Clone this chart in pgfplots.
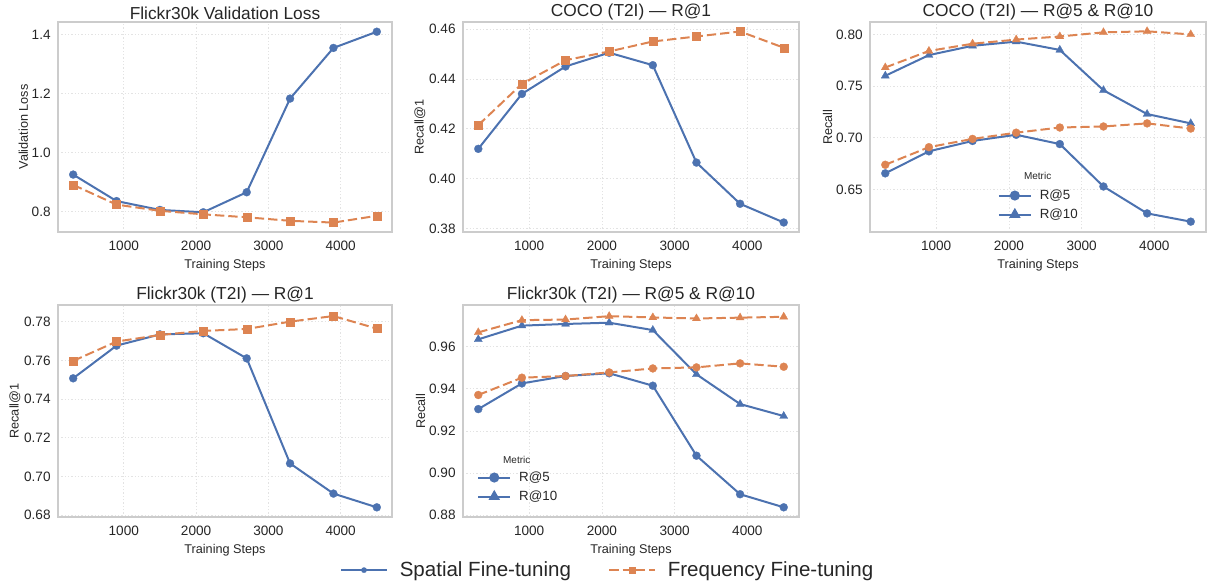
\documentclass[border=0pt]{standalone}
\usepackage{fontspec}
\setmainfont{Liberation Sans}
\usepackage{pgfplots}
\pgfplotsset{compat=1.18}
\definecolor{sblue}{HTML}{4C72B0}
\definecolor{sorange}{HTML}{DD8452}
\definecolor{gridc}{HTML}{E3E3E3}
\definecolor{framec}{HTML}{CCCCCC}
\definecolor{txt}{HTML}{262626}
\pgfplotsset{
  panel/.style={
    scale only axis,
    xmin=90, xmax=4710,
    xtick={1000,2000,3000,4000},
    grid=major,
    major grid style={gridc, line width=0.6pt, dash pattern=on 1pt off 1.5pt},
    axis line style={framec, line width=0.9pt},
    major tick length=0pt,
    tick style={draw=none},
    tick label style={font=\fontsize{10.2}{12}\selectfont, text=txt},
    xticklabel shift=3pt,
    yticklabel shift=2pt,
    ylabel shift=-4pt,
    /pgf/number format/assume math mode=true,
    /pgf/number format/set thousands separator={},
    yticklabel style={/pgf/number format/.cd, fixed, fixed zerofill, precision=2},
    title style={font=\fontsize{13}{15}\selectfont, text=txt, yshift=-8pt},
    label style={font=\fontsize{9.5}{11}\selectfont, text=txt},
    xlabel={Training Steps},
    every axis plot/.append style={line width=1.5pt},
    legend style={draw=none, fill=none, font=\fontsize{10}{12}\selectfont, text=txt, row sep=1.5pt,
      /tikz/every odd column/.append style={column sep=4pt}},
    legend cell align=left,
    legend image code/.code={\draw[mark repeat=2,mark phase=2] plot coordinates {(0cm,0cm)(0.42cm,0cm)(0.84cm,0cm)};},
  },
  spat/.style={sblue, solid, mark size=3pt, mark options={solid, fill=sblue, draw=sblue, line width=0.2pt}},
  freq/.style={sorange, dash pattern=on 7pt off 3pt, mark size=3pt, mark options={solid, fill=sorange, draw=sorange, line width=0.2pt}},
}
\begin{document}
\begin{tikzpicture}
\useasboundingbox (0,0) rectangle (906pt,-438.75pt);
% Panel 1
\begin{axis}[panel, at={(43.5pt,-16.5pt)}, anchor=north west, width=250.5pt, height=157.5pt,
  title={Flickr30k Validation Loss}, ylabel={Validation Loss},
  ymin=0.730, ymax=1.443, ytick={0.8,1.0,1.2,1.4},
  yticklabel style={/pgf/number format/.cd, fixed, fixed zerofill, precision=1},
  legend style={at={(1.647,-1.61)}, anchor=center, legend columns=2, font=\fontsize{15.4}{18}\selectfont,
    /tikz/every odd column/.append style={column sep=7pt},
    /tikz/every even column/.append style={column sep=26pt}},
  legend image code/.code={\draw[mark repeat=2,mark phase=2] plot coordinates {(0cm,0cm)(0.6cm,0cm)(1.2cm,0cm)};},
  legend image post style={mark size=2pt},
]
\addplot[spat, mark=*] coordinates {(300,0.925)(900,0.835)(1500,0.805)(2100,0.797)(2700,0.865)(3300,1.183)(3900,1.355)(4500,1.410)};
\addplot[freq, mark=square*] coordinates {(300,0.890)(900,0.823)(1500,0.802)(2100,0.790)(2700,0.780)(3300,0.768)(3900,0.762)(4500,0.785)};
\legend{Spatial Fine-tuning, Frequency Fine-tuning}
\end{axis}
% Panel 2
\begin{axis}[panel, at={(347.25pt,-16.5pt)}, anchor=north west, width=252pt, height=157.5pt,
  title={COCO (T2I) — R@1}, ylabel={Recall@1},
  ymin=0.3787, ymax=0.4628, ytick={0.38,0.40,0.42,0.44,0.46},
]
\addplot[spat, mark=*] coordinates {(300,0.412)(900,0.434)(1500,0.445)(2100,0.4505)(2700,0.4455)(3300,0.4065)(3900,0.390)(4500,0.3825)};
\addplot[freq, mark=square*] coordinates {(300,0.4215)(900,0.438)(1500,0.4475)(2100,0.451)(2700,0.455)(3300,0.457)(3900,0.459)(4500,0.4525)};
\end{axis}
% Panel 3
\begin{axis}[panel, at={(652.5pt,-16.5pt)}, anchor=north west, width=252pt, height=157.5pt,
  title={COCO (T2I) — R@5 \& R@10}, ylabel={Recall},
  ymin=0.609, ymax=0.812, ytick={0.65,0.70,0.75,0.80},
  legend style={at={(0.368,0.228)}, anchor=north west},
]
\addlegendimage{sblue, solid, line width=1.5pt, mark=*, mark size=3pt, mark options={fill=sblue}}
\addlegendimage{sblue, solid, line width=1.5pt, mark=triangle*, mark size=3.5pt, mark options={fill=sblue}}
\addplot[spat, mark=*] coordinates {(300,0.6657)(900,0.687)(1500,0.697)(2100,0.703)(2700,0.694)(3300,0.653)(3900,0.627)(4500,0.619)};
\addplot[spat, mark=triangle*, mark size=3.5pt] coordinates {(300,0.760)(900,0.780)(1500,0.789)(2100,0.793)(2700,0.785)(3300,0.746)(3900,0.723)(4500,0.714)};
\addplot[freq, mark=*] coordinates {(300,0.674)(900,0.691)(1500,0.699)(2100,0.705)(2700,0.710)(3300,0.711)(3900,0.714)(4500,0.709)};
\addplot[freq, mark=triangle*, mark size=3.5pt] coordinates {(300,0.768)(900,0.784)(1500,0.791)(2100,0.795)(2700,0.798)(3300,0.802)(3900,0.803)(4500,0.800)};
\legend{R@5, R@10}
\node[font=\fontsize{7.5}{9}\selectfont, text=txt] at (axis description cs:0.499,0.267) {Metric};
\end{axis}
% Panel 4
\begin{axis}[panel, at={(43.5pt,-228.75pt)}, anchor=north west, width=250.5pt, height=159pt,
  title={Flickr30k (T2I) — R@1}, ylabel={Recall@1},
  ymin=0.679, ymax=0.7886, ytick={0.68,0.70,0.72,0.74,0.76,0.78},
]
\addplot[spat, mark=*] coordinates {(300,0.7507)(900,0.7676)(1500,0.7734)(2100,0.774)(2700,0.761)(3300,0.7067)(3900,0.6911)(4500,0.684)};
\addplot[freq, mark=square*] coordinates {(300,0.7597)(900,0.7697)(1500,0.7731)(2100,0.7752)(2700,0.7762)(3300,0.780)(3900,0.7829)(4500,0.7764)};
\end{axis}
% Panel 5
\begin{axis}[panel, at={(347.25pt,-228.75pt)}, anchor=north west, width=252pt, height=159pt,
  title={Flickr30k (T2I) — R@5 \& R@10}, ylabel={Recall},
  ymin=0.8792, ymax=0.9798, ytick={0.88,0.90,0.92,0.94,0.96},
  legend style={at={(0.03,0.24)}, anchor=north west},
]
\addlegendimage{sblue, solid, line width=1.5pt, mark=*, mark size=3pt, mark options={fill=sblue}}
\addlegendimage{sblue, solid, line width=1.5pt, mark=triangle*, mark size=3.5pt, mark options={fill=sblue}}
\addplot[spat, mark=*] coordinates {(300,0.9304)(900,0.9426)(1500,0.9461)(2100,0.9474)(2700,0.9415)(3300,0.9083)(3900,0.8900)(4500,0.8838)};
\addplot[spat, mark=triangle*, mark size=3.5pt] coordinates {(300,0.9635)(900,0.9700)(1500,0.9708)(2100,0.9714)(2700,0.9679)(3300,0.9469)(3900,0.9328)(4500,0.9271)};
\addplot[freq, mark=*] coordinates {(300,0.9371)(900,0.9453)(1500,0.9461)(2100,0.9478)(2700,0.9497)(3300,0.9502)(3900,0.9521)(4500,0.9505)};
\addplot[freq, mark=triangle*, mark size=3.5pt] coordinates {(300,0.9668)(900,0.9726)(1500,0.9729)(2100,0.9745)(2700,0.9739)(3300,0.9734)(3900,0.9738)(4500,0.9742)};
\legend{R@5, R@10}
\node[font=\fontsize{7.5}{9}\selectfont, text=txt] at (axis description cs:0.16,0.27) {Metric};
\end{axis}
\end{tikzpicture}
\end{document}
